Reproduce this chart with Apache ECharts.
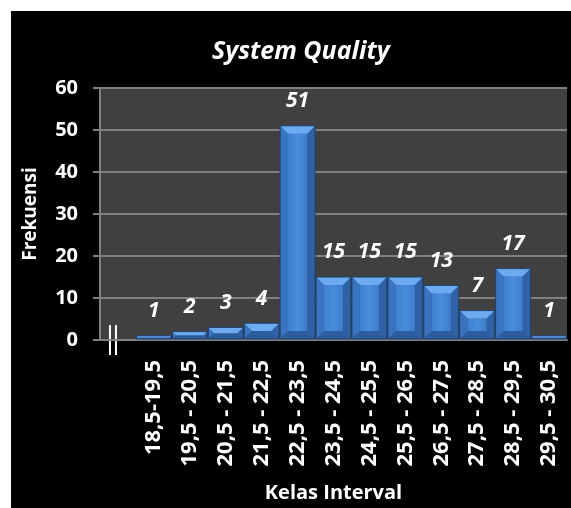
<!DOCTYPE html>
<html>
<head>
<meta charset="utf-8">
<script src="https://cdn.jsdelivr.net/npm/echarts@6/dist/echarts.min.js"></script>
<style>
  html, body { margin: 0; padding: 0; background: #ffffff; overflow: hidden; }
  #frame { position: absolute; left: 11px; top: 11px; width: 560px; height: 497px; background: #000000; }
  #chart { position: absolute; left: 0; top: 0; width: 571px; height: 508px; }
</style>
</head>
<body>
<div id="frame"></div>
<div id="chart"></div>
<script>
// Class intervals (first slot left empty for the axis break)
const categories = ['', '18,5-19,5', '19,5 - 20,5', '20,5 - 21,5', '21,5 - 22,5',
  '22,5 - 23,5', '23,5 - 24,5', '24,5 - 25,5', '25,5 - 26,5', '26,5 - 27,5',
  '27,5 - 28,5', '28,5 - 29,5', '29,5 - 30,5'];
const frequencies = [null, 1, 2, 3, 4, 51, 15, 15, 15, 13, 7, 17, 1];
const yTicks = [0, 10, 20, 30, 40, 50, 60];

const FONT = '"Open Sans", "Noto Sans", sans-serif';
const chart = echarts.init(document.getElementById('chart'));

// Beveled column drawn from the value scale
function renderBar(params, api) {
  const v = api.value(1);
  if (v == null || isNaN(v)) return;
  const top = api.coord([api.value(0), v]);
  const base = api.coord([api.value(0), 0]);
  const w = api.size([1, 0])[0];
  const x0 = top[0] - w / 2 + 0.5, x1 = top[0] + w / 2 - 0.5;
  const y0 = top[1], y1 = base[1] - 1;
  const h = y1 - y0;
  const d = Math.min(8, h / 2, (x1 - x0) / 4);
  const children = [
    { type: 'rect', shape: { x: x0, y: y0, width: x1 - x0, height: h },
      style: { fill: '#2c5c9c' } },
    // left bevel
    { type: 'polygon', shape: { points: [[x0, y0], [x0 + d, y0 + d], [x0 + d, y1 - d], [x0, y1]] },
      style: { fill: '#3a74c0' } },
    // right bevel
    { type: 'polygon', shape: { points: [[x1, y0], [x1 - d, y0 + d], [x1 - d, y1 - d], [x1, y1]] },
      style: { fill: '#2f62a5' } },
    // bottom bevel
    { type: 'polygon', shape: { points: [[x0, y1], [x0 + d, y1 - d], [x1 - d, y1 - d], [x1, y1]] },
      style: { fill: '#2d5d9e' } },
    // face
    { type: 'rect', shape: { x: x0 + d, y: y0 + d, width: Math.max(0, x1 - x0 - 2 * d), height: Math.max(0, h - 2 * d) },
      style: { fill: new echarts.graphic.LinearGradient(0, 0, 1, 0, [
        { offset: 0, color: '#3f7fcf' }, { offset: 0.5, color: '#4a8ddc' }, { offset: 1, color: '#3f7ccb' }]) } },
    // top bevel
    { type: 'polygon', shape: { points: [[x0, y0], [x1, y0], [x1 - d, y0 + d], [x0 + d, y0 + d]] },
      style: { fill: '#6eaaf0' } },
    // dark outline between adjacent columns
    { type: 'rect', shape: { x: x0, y: y0, width: x1 - x0, height: h },
      style: { fill: 'none', stroke: '#1f3f6a', lineWidth: 1 } },
    // value label
    { type: 'text', style: { text: String(v), x: top[0], y: y0 - 14, align: 'center', verticalAlign: 'bottom',
      fill: '#ffffff', font: 'italic bold 21px ' + FONT } }
  ];
  return { type: 'group', children };
}

chart.setOption({
  backgroundColor: 'transparent',
  animation: false,
  title: {
    text: 'System Quality', left: 207, top: 34,
    textStyle: { color: '#ffffff', fontFamily: FONT, fontStyle: 'italic', fontWeight: 'bold', fontSize: 25 }
  },
  grid: { left: 100, right: 4, top: 88, bottom: 153, show: true, backgroundColor: '#404040', borderWidth: 0 },
  xAxis: {
    type: 'category', data: categories,
    name: 'Kelas Interval', nameLocation: 'middle', nameGap: 143,
    nameTextStyle: { color: '#ffffff', fontFamily: FONT, fontWeight: 'bold', fontSize: 20 },
    axisLine: { lineStyle: { color: '#808080', width: 2 } },
    axisTick: { show: false },
    axisLabel: { rotate: 90, interval: 0, margin: 20, color: '#ffffff', fontFamily: FONT, fontWeight: 'bold', fontSize: 22 }
  },
  yAxis: {
    type: 'value', min: yTicks[0], max: yTicks[yTicks.length - 1], interval: 10,
    name: 'Frekuensi', nameLocation: 'middle', nameGap: 60, nameRotate: 90,
    nameTextStyle: { color: '#ffffff', fontFamily: FONT, fontWeight: 'bold', fontSize: 19 },
    axisLine: { show: true, lineStyle: { color: '#808080', width: 2 } },
    axisTick: { show: true, length: 7, lineStyle: { color: '#808080', width: 2 } },
    axisLabel: { margin: 22, color: '#ffffff', fontFamily: FONT, fontWeight: 'bold', fontSize: 20 },
    splitLine: { lineStyle: { color: '#808080', width: 2 } }
  },
  series: [{
    type: 'custom',
    renderItem: renderBar,
    data: frequencies.map((v, i) => [i, v]),
    encode: { x: 0, y: 1 }
  }]
});

// Axis-break marker in the empty first slot
const p = chart.convertToPixel({ gridIndex: 0 }, [0, 0]);
chart.setOption({
  graphic: [
    { type: 'line', shape: { x1: p[0] - 8, y1: p[1] - 15, x2: p[0] - 8, y2: p[1] + 15 }, style: { stroke: '#ffffff', lineWidth: 2 } },
    { type: 'line', shape: { x1: p[0] - 2, y1: p[1] - 15, x2: p[0] - 2, y2: p[1] + 15 }, style: { stroke: '#ffffff', lineWidth: 2 } }
  ]
});
</script>
</body>
</html>
